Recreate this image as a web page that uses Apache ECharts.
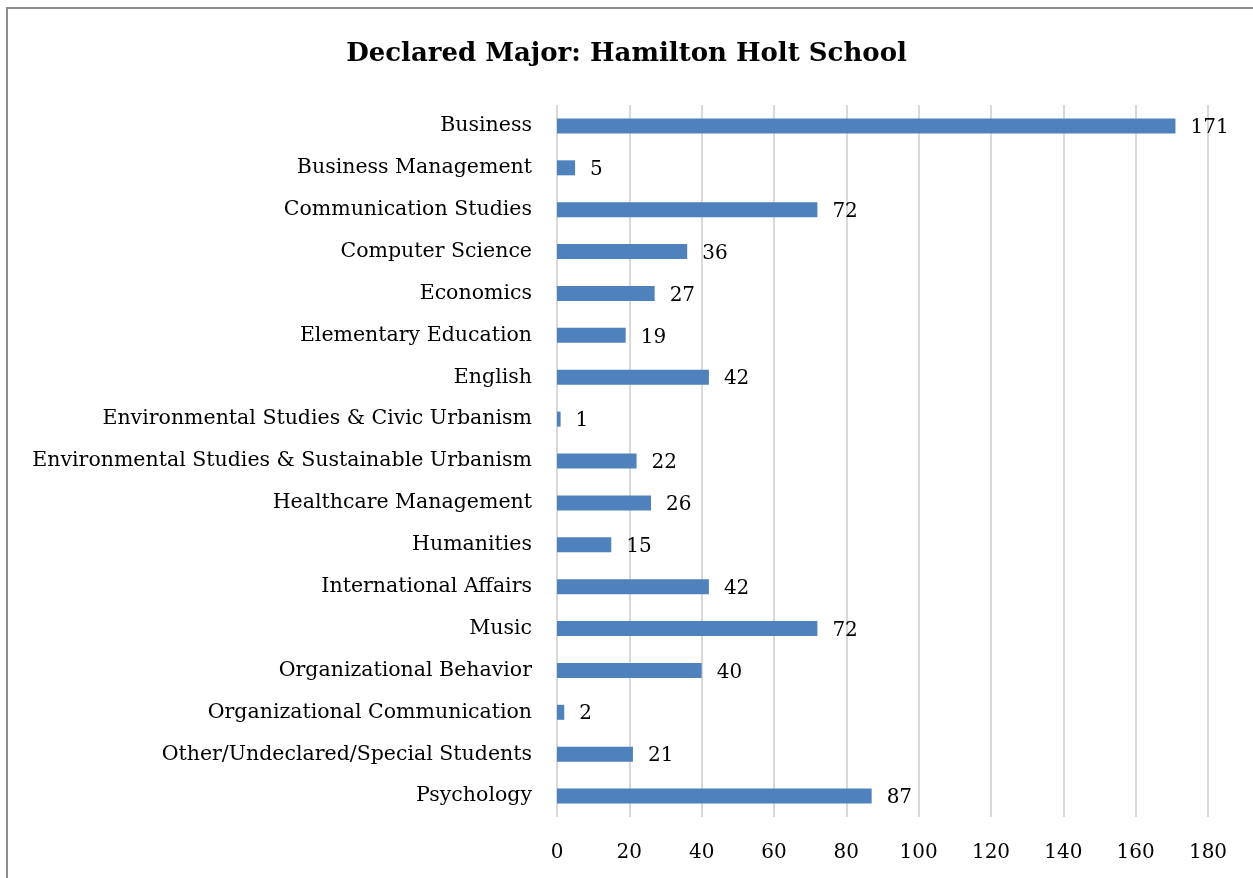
<!DOCTYPE html>
<html>
<head>
<meta charset="utf-8">
<title>Declared Major: Hamilton Holt School</title>
<script src="https://cdn.jsdelivr.net/npm/echarts@6/dist/echarts.min.js"></script>
<style>
  html, body { margin: 0; padding: 0; background: #fff; }
  #chart { width: 1253px; height: 878px; }
</style>
</head>
<body>
<div id="chart"></div>
<script>
// 专业名称（从上到下）
const majors = [
  'Business', 'Business Management', 'Communication Studies', 'Computer Science',
  'Economics', 'Elementary Education', 'English',
  'Environmental Studies & Civic Urbanism',
  'Environmental Studies & Sustainable Urbanism',
  'Healthcare Management', 'Humanities', 'International Affairs', 'Music',
  'Organizational Behavior', 'Organizational Communication',
  'Other/Undeclared/Special Students', 'Psychology'
];
const counts = [171, 5, 72, 36, 27, 19, 42, 1, 22, 26, 15, 42, 72, 40, 2, 21, 87];
const xTicks = [0, 180, 20]; // min, max, interval

const font = '"DejaVu Serif", "Liberation Serif", serif';

const chart = echarts.init(document.getElementById('chart'));
const option = {
  animation: false,
  textStyle: { fontFamily: font },
  title: {
    text: 'Declared Major: Hamilton Holt School',
    left: 'center',
    top: 36,
    textStyle: { fontFamily: font, fontSize: 26, fontWeight: 'bold', color: '#000' }
  },
  graphic: [{
    type: 'rect',
    shape: { x: 7, y: 8, width: 1260, height: 900 },
    style: { fill: null, stroke: '#8c8c8c', lineWidth: 2 },
    silent: true
  }],
  grid: { left: 557, right: 45, top: 105, bottom: 61, containLabel: false },
  xAxis: {
    type: 'value',
    min: xTicks[0],
    max: xTicks[1],
    interval: xTicks[2],
    axisLine: { show: false },
    axisTick: { show: false },
    axisLabel: { color: '#000', fontSize: 20, margin: 26, fontFamily: font },
    splitLine: { show: true, lineStyle: { color: '#d9d9d9', width: 2 } }
  },
  yAxis: {
    type: 'category',
    inverse: true,
    data: majors,
    axisLine: { show: false },
    axisTick: { show: false },
    axisLabel: { color: '#000', fontSize: 20.5, margin: 25, fontFamily: font }
  },
  series: [{
    type: 'bar',
    data: counts,
    barWidth: 15,
    itemStyle: { color: '#4f81bd' },
    label: {
      show: true,
      position: 'right',
      distance: 15,
      color: '#000',
      fontSize: 20,
      fontFamily: font,
      offset: [0, 2]
    }
  }]
};
chart.setOption(option);
</script>
</body>
</html>
